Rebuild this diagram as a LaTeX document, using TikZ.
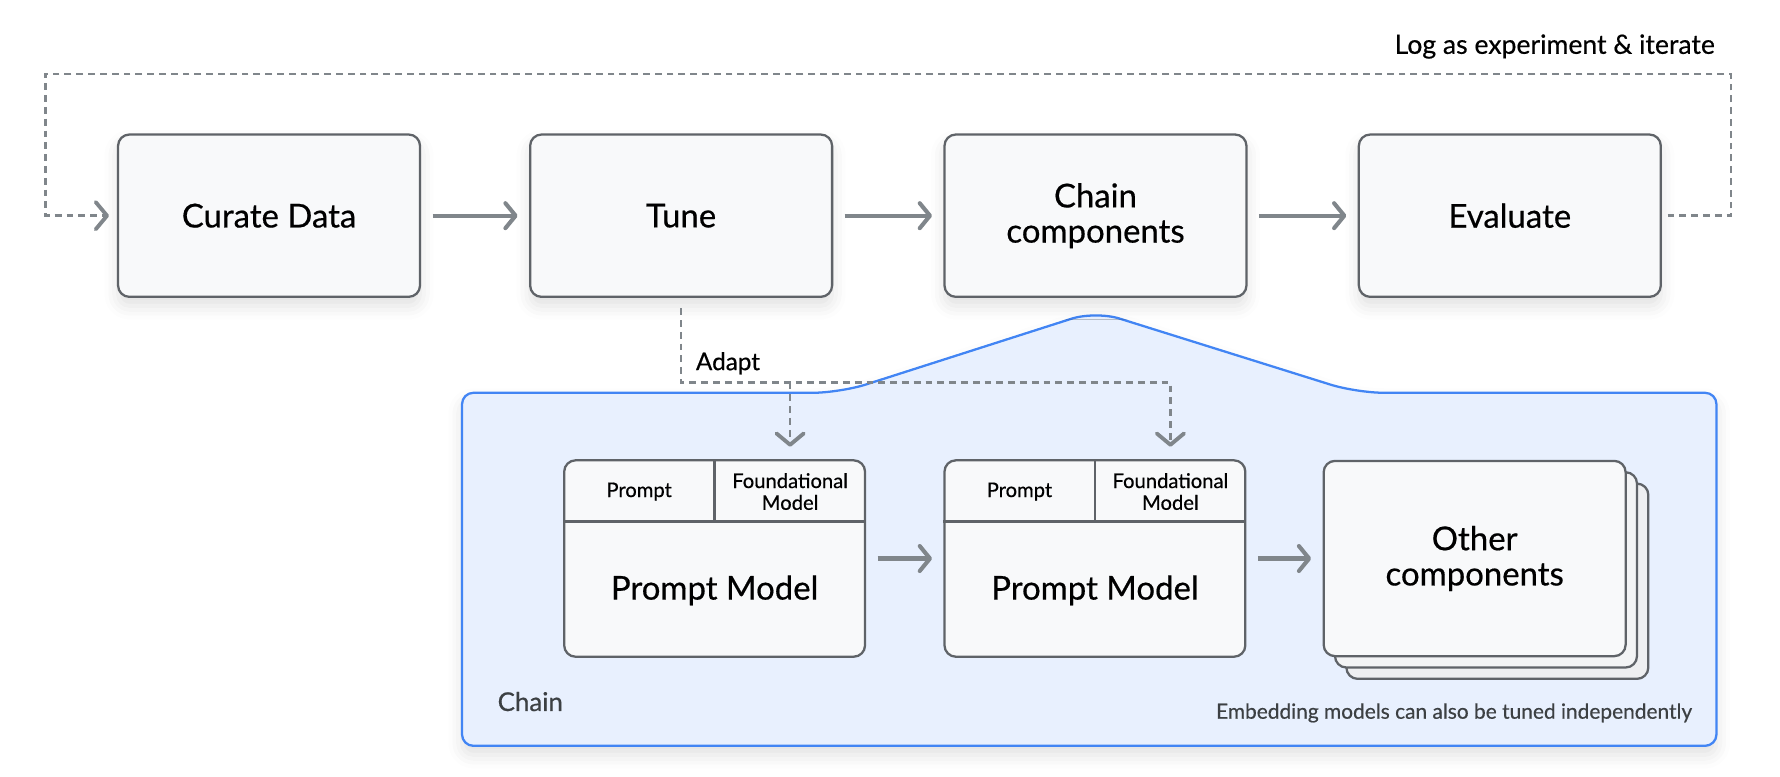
\documentclass[tikz,border=0pt]{standalone}
\usepackage{fontspec}
\setmainfont{Lato}[FakeBold=0.5]
\usetikzlibrary{arrows.meta, shadows.blur}
\definecolor{boxfill}{HTML}{F8F9FA}
\definecolor{boxline}{HTML}{5F6368}
\definecolor{arrowgray}{HTML}{80868B}
\definecolor{chainblue}{HTML}{4285F4}
\definecolor{chainfill}{HTML}{E8F0FE}
\definecolor{backfill}{HTML}{EEEFF1}
\definecolor{textgray}{HTML}{3C4043}
\tikzset{
  soft/.style={blur shadow={shadow xshift=0pt, shadow yshift=-4pt,
    shadow blur radius=6pt, shadow opacity=12}},
  card/.style={draw=boxline, fill=boxfill, line width=1pt, rounded corners=5pt,
    align=center, font=\fontsize{14.5}{15.5}\selectfont},
  stage/.style={card, soft, minimum width=133pt, minimum height=71.5pt},
  pmodel/.style={card, minimum width=132.5pt, minimum height=86.5pt},
  small/.style={align=center, font=\fontsize{8.9}{9.6}\selectfont},
  big/.style={align=center, font=\fontsize{14.5}{15.5}\selectfont},
  flow/.style={draw=arrowgray, line width=1.8pt,
    -{Straight Barb[length=4.5pt,width=11pt,round]}, shorten <=5pt, shorten >=5pt},
  loopline/.style={draw=arrowgray, line width=1.05pt, dash pattern=on 3pt off 2.2pt,
    -{Straight Barb[length=5pt,width=12pt,round,line width=1.7pt]}}
}
\begin{document}
\begin{tikzpicture}[x=0.5pt, y=-0.5pt]
    \useasboundingbox (0,0) rectangle (1568,684);
    % Цепочка
    \draw[chainblue, fill=chainfill, line width=1pt, rounded corners=5pt, soft]
    (407,657) -- (407,346) [rounded corners=12pt] -- (740,346)
    [rounded corners=11pt] -- (965,274) [rounded corners=12pt] -- (1195,346)
    [rounded corners=5pt] -- (1512,346) -- (1512,657) -- cycle;

    % Этапы
    \node[stage] (curate) at (237,190) {Curate Data};
    \node[stage] (tune) at (600,190) {Tune};
    \node[stage] (chain) at (965,190) {Chain\\components};
    \node[stage] (eval) at (1330,190) {Evaluate};

    \draw[flow] (curate) -- (tune);
    \draw[flow] (tune) -- (chain);
    \draw[flow] (chain) -- (eval);

    % Цикл
    \coordinate (tr) at (1525,65);
    \coordinate (tl) at (40,65);
    \draw[loopline] ([xshift=2.5pt]eval.east) -| (tr) -- (tl) |- ([xshift=-3.5pt]curate.west);
    \node[anchor=east, inner sep=0, font=\fontsize{11.7}{13}\selectfont] (log) at (1511,41)
    {Log as experiment \& iterate};

    % Модели
    \node[pmodel] (pm1) at (629.5,492) {};
    \node[pmodel] (pm2) at (964.5,492) {};
    \foreach \m in {pm1, pm2} {
        \draw[boxline, line width=1pt] ([yshift=-27.5pt]\m.north west) -- ([yshift=-27.5pt]\m.north east);
        \draw[boxline, line width=1pt] (\m.north) -- ([yshift=-27.5pt]\m.north);
    }
    \node[small] (p1) at (563,433) {Prompt};
    \node[small] (fm1) at (696,433) {Foundational\\Model};
    \node[big] (t1) at (629.5,520) {Prompt Model};
    \node[small] (p2) at (898,433) {Prompt};
    \node[small] (fm2) at (1031,433) {Foundational\\Model};
    \node[big] (t2) at (964.5,520) {Prompt Model};

    % Другие компоненты
    \node[pmodel, minimum width=133pt, minimum height=86pt, fill=backfill] (oc3) at (1319,512) {};
    \node[pmodel, minimum width=133pt, minimum height=86pt, fill=backfill!50!boxfill] (oc2) at (1309,502) {};
    \node[pmodel, minimum width=133pt, minimum height=86pt] (oc) at (1299,492) {Other\\components};

    \draw[flow] (pm1) -- (pm2);
    \draw[flow] (pm2) -- (oc);

    % Адаптация
    \coordinate (ad) at (1031,337);
    \draw[loopline] ([yshift=-4.5pt]tune.south) |- (ad) -- ([yshift=5.5pt]fm2 |- pm2.north);
    \draw[loopline] (fm1 |- ad) -- ([yshift=5.5pt]fm1 |- pm1.north);
    \node[anchor=west, font=\fontsize{10.7}{12}\selectfont] (adapt) at (606,320) {Adapt};

    \node[anchor=west, inner sep=0, text=textgray, font=\fontsize{11.4}{13}\selectfont] (chainlbl)
    at (438,618) {Chain};
    \node[anchor=east, inner sep=0, text=textgray, font=\fontsize{9.2}{10}\selectfont] (emb)
    at (1491,628) {Embedding models can also be tuned independently};
\end{tikzpicture}
\end{document}
